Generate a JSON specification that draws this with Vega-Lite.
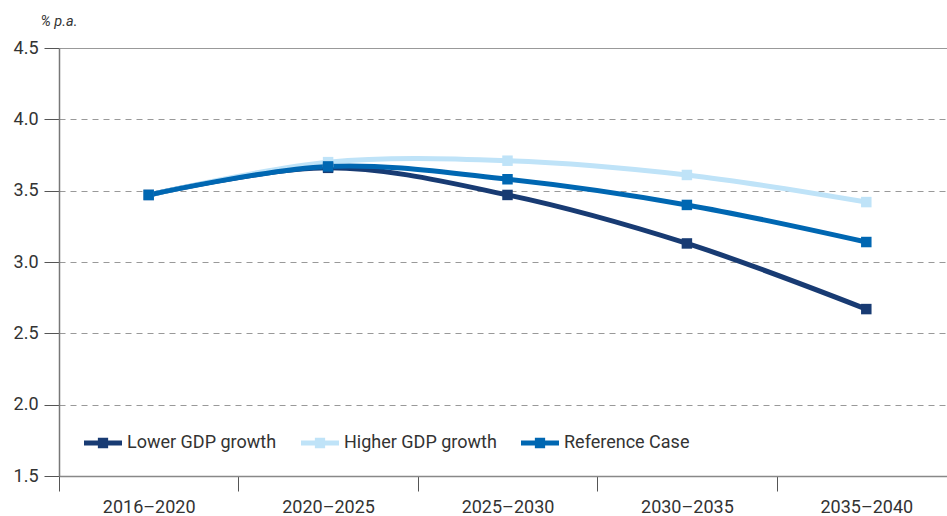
{
  "$schema": "https://vega.github.io/schema/vega-lite/v6.json",
  "width": 888,
  "height": 428,
  "autosize": "none",
  "padding": {"left": 59, "top": 48, "right": 0, "bottom": 40},
  "background": "white",
  "config": {
    "view": {"stroke": null},
    "font": "Roboto"
  },
  "data": {
    "values": [
      {"period": "2016–2020", "scenario": "Lower GDP growth", "value": 3.47},
      {"period": "2020–2025", "scenario": "Lower GDP growth", "value": 3.66},
      {"period": "2025–2030", "scenario": "Lower GDP growth", "value": 3.47},
      {"period": "2030–2035", "scenario": "Lower GDP growth", "value": 3.13},
      {"period": "2035–2040", "scenario": "Lower GDP growth", "value": 2.67},
      {"period": "2016–2020", "scenario": "Higher GDP growth", "value": 3.47},
      {"period": "2020–2025", "scenario": "Higher GDP growth", "value": 3.70},
      {"period": "2025–2030", "scenario": "Higher GDP growth", "value": 3.71},
      {"period": "2030–2035", "scenario": "Higher GDP growth", "value": 3.61},
      {"period": "2035–2040", "scenario": "Higher GDP growth", "value": 3.42},
      {"period": "2016–2020", "scenario": "Reference Case", "value": 3.47},
      {"period": "2020–2025", "scenario": "Reference Case", "value": 3.67},
      {"period": "2025–2030", "scenario": "Reference Case", "value": 3.58},
      {"period": "2030–2035", "scenario": "Reference Case", "value": 3.40},
      {"period": "2035–2040", "scenario": "Reference Case", "value": 3.14}
    ]
  },
  "encoding": {
    "x": {
      "field": "period",
      "type": "ordinal",
      "sort": null,
      "scale": {"type": "band", "range": [0, 897], "paddingInner": 0, "paddingOuter": 0},
      "axis": {
        "title": null,
        "labelAngle": 0,
        "labelFontSize": 18,
        "labelColor": "#333333",
        "labelPadding": 7,
        "domainColor": "#888888",
        "domainWidth": 1.5,
        "tickColor": "#555555",
        "tickSize": 15,
        "tickBand": "extent",
        "grid": false
      }
    },
    "y": {
      "field": "value",
      "type": "quantitative",
      "scale": {"domain": [1.5, 4.5], "nice": false, "zero": false},
      "axis": {
        "values": [1.5, 2, 2.5, 3, 3.5, 4, 4.5],
        "format": ".1f",
        "title": "% p.a.",
        "titleAngle": 0,
        "titleAlign": "left",
        "titleBaseline": "middle",
        "titleX": -19,
        "titleY": -27,
        "titleFontSize": 14.5,
        "titleFontStyle": "italic",
        "titleFontWeight": "normal",
        "titleColor": "#333333",
        "labelFontSize": 18,
        "labelColor": "#333333",
        "labelPadding": 6,
        "domainColor": "#777777",
        "domainWidth": 1.5,
        "tickColor": "#555555",
        "tickSize": 15,
        "grid": true,
        "gridColor": "#999999",
        "gridWidth": 1.2,
        "gridDash": {"condition": {"test": "datum.value == 4.5", "value": []}, "value": [6, 5]}
      }
    },
    "color": {
      "field": "scenario",
      "type": "nominal",
      "sort": ["Lower GDP growth", "Higher GDP growth", "Reference Case"],
      "scale": {
        "domain": ["Lower GDP growth", "Higher GDP growth", "Reference Case"],
        "range": ["#183b73", "#bfe3f8", "#0067b2"]
      },
      "legend": {
        "title": null,
        "orient": "none",
        "direction": "horizontal",
        "legendX": 25,
        "legendY": 376,
        "padding": 0,
        "labelFontSize": 18,
        "labelColor": "#333333",
        "symbolType": "M-1,-0.13H1V0.13H-1ZM-0.27,-0.27H0.27V0.27H-0.27Z",
        "symbolSize": 1444,
        "symbolStrokeWidth": 0,
        "columnPadding": 24,
        "labelOffset": 5,
        "encode": {
          "symbols": {"update": {"fill": {"scale": "color", "field": "value"}, "fillOpacity": {"value": 1}}}
        }
      }
    }
  },
  "layer": [
    {
      "mark": {"type": "line", "interpolate": "catmull-rom", "strokeWidth": 5},
      "encoding": {"order": {"field": "scenario"}}
    },
    {
      "mark": {"type": "square", "size": 110, "opacity": 1, "filled": true}
    }
  ]
}
